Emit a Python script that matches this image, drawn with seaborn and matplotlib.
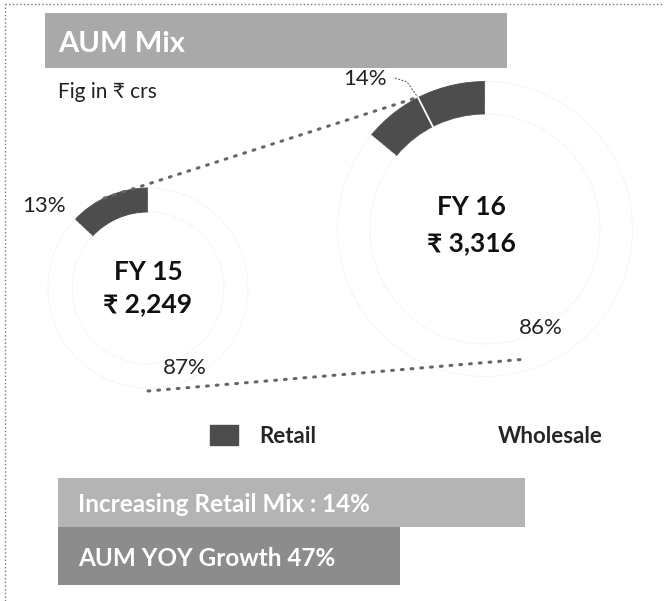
#!/usr/bin/env python3
# -*- coding: utf-8 -*-
"""
AUM MIX - two donuts (FY15 / FY16), size scaled with AUM
"""
import numpy as np
import matplotlib
matplotlib.use("Agg")
from matplotlib import pyplot as plt
from matplotlib.patches import Rectangle
import seaborn as sns

################################################################################################
"""DATA"""

years = ["FY 15", "FY 16"]
aum = [2249, 3316]                 # Rs crs
segments = ["Retail", "Wholesale"]
retail_pct = [13, 14]
wholesale_pct = [87, 86]
headline = "AUM Mix"
unit_note = "Fig in ₹ crs"
takeaways = ["Increasing Retail Mix : 14%", "AUM YOY Growth 47%"]

################################################################################################
"""STYLE"""

sns.set_theme(style="white")
plt.rcParams['font.family'] = ['Lato', 'Noto Sans', 'DejaVu Sans']
palette = ["#4d4d4d", "#ffffff"]

fig = plt.figure(figsize=(6.64, 6.01), dpi=100)
ax = fig.add_axes([0, 0, 1, 1])

# layout in pixel units (y up)
centers = [(148, 313), (485, 372)]
ring = [0.24, 0.22]
base_r = 100 / aum[0]
radii = [a * base_r for a in aum]


def on_circle(i, ang, frac=1.0):
    cx, cy = centers[i]
    r = radii[i] * frac
    return cx + r * np.cos(np.radians(ang)), cy + r * np.sin(np.radians(ang))


################################################################################################
"""DONUTS"""

for i in range(len(years)):
    r = radii[i]
    wedges, _ = ax.pie([retail_pct[i], wholesale_pct[i]], colors=palette, startangle=90,
                       counterclock=True, radius=r, center=centers[i], frame=True,
                       wedgeprops=dict(width=r * ring[i], linewidth=0.6))
    wedges[0].set_edgecolor(palette[0])
    wedges[1].set_edgecolor("#e2e2e2")
    wedges[1].set_linestyle(":")

# dotted growth lines between the two rings
for (a0, f0), (a1, f1) in [((116, 1.0), (116, 1.0)), ((270, 1.03), (286, 0.92))]:
    x0, y0 = on_circle(0, a0, f0)
    x1, y1 = on_circle(1, a1, f1)
    ax.plot([x0, x1], [y0, y1], color="#666666", lw=2.2, linestyle=(0, (0.6, 2.6)),
            dash_capstyle="round", zorder=3)

# centre labels
text_pos = [(148, 329, 297), (471, 394, 358)]
for i, (tx, ty1, ty2) in enumerate(text_pos):
    ax.text(tx, ty1, years[i], ha="center", va="center", fontsize=19, fontweight="bold", color="#111111")
    ax.text(tx, ty2, "₹ {:,}".format(aum[i]), ha="center", va="center", fontsize=19,
            fontweight="bold", color="#111111")

# percentage labels
ax.text(44, 395, "{}%".format(retail_pct[0]), ha="center", va="center", fontsize=16, color="#222222")
ax.text(185, 233, "{}%".format(wholesale_pct[0]), ha="center", va="center", fontsize=16, color="#222222")
ax.text(365, 522, "{}%".format(retail_pct[1]), ha="center", va="center", fontsize=16, color="#222222")
ax.text(541, 273, "{}%".format(wholesale_pct[1]), ha="center", va="center", fontsize=16, color="#222222")

# leader for the 14% label
lx, ly = on_circle(1, 117)
ax.plot([395, 407, lx], [523, 519, ly], color="#555555", lw=0.7, linestyle=(0, (2, 1.5)), zorder=4)
ix, iy = on_circle(1, 117, 1 - ring[1])
ax.plot([lx, ix], [ly, iy], color="white", lw=1.3, zorder=4)

################################################################################################
"""LEGEND, TEXTS, BANNERS"""

handles = [Rectangle((0, 0), 1, 1, facecolor=palette[0], edgecolor=palette[0]),
           Rectangle((0, 0), 1, 1, facecolor=palette[1], edgecolor="none")]
ax.legend(handles, segments, ncol=2, loc="center left", bbox_to_anchor=(210, 165),
          bbox_transform=ax.transData, frameon=False, prop=dict(size=16, weight="bold"),
          handlelength=1.25, handleheight=1.0, handletextpad=0.95, columnspacing=6.0,
          borderpad=0, borderaxespad=0)

ax.text(58, 509, unit_note, ha="left", va="center", fontsize=15, color="#222222")

ax.add_patch(Rectangle((45, 533), 462, 55, facecolor="#a9a9a9", edgecolor="none"))
ax.text(58, 557, headline, ha="left", va="center", fontsize=21, fontweight="bold", color="white")

ax.add_patch(Rectangle((58, 74), 467, 49, facecolor="#b4b4b4", edgecolor="none"))
ax.text(78, 97, takeaways[0], ha="left", va="center", fontsize=17.5, fontweight="bold", color="white")
ax.add_patch(Rectangle((58, 16), 342, 58, facecolor="#8c8c8c", edgecolor="none"))
ax.text(78, 42, takeaways[1], ha="left", va="center", fontsize=17.5, fontweight="bold", color="white")

# page border (left and top)
ax.plot([5, 5], [0, 597], color="#777777", lw=1, linestyle=":")
ax.plot([5, 664], [597, 597], color="#777777", lw=1, linestyle=":")

ax.set_xlim(0, 664)
ax.set_ylim(0, 601)
ax.set_aspect("equal")
ax.axis("off")

fig.savefig("out.png", dpi=100)
plt.close()
